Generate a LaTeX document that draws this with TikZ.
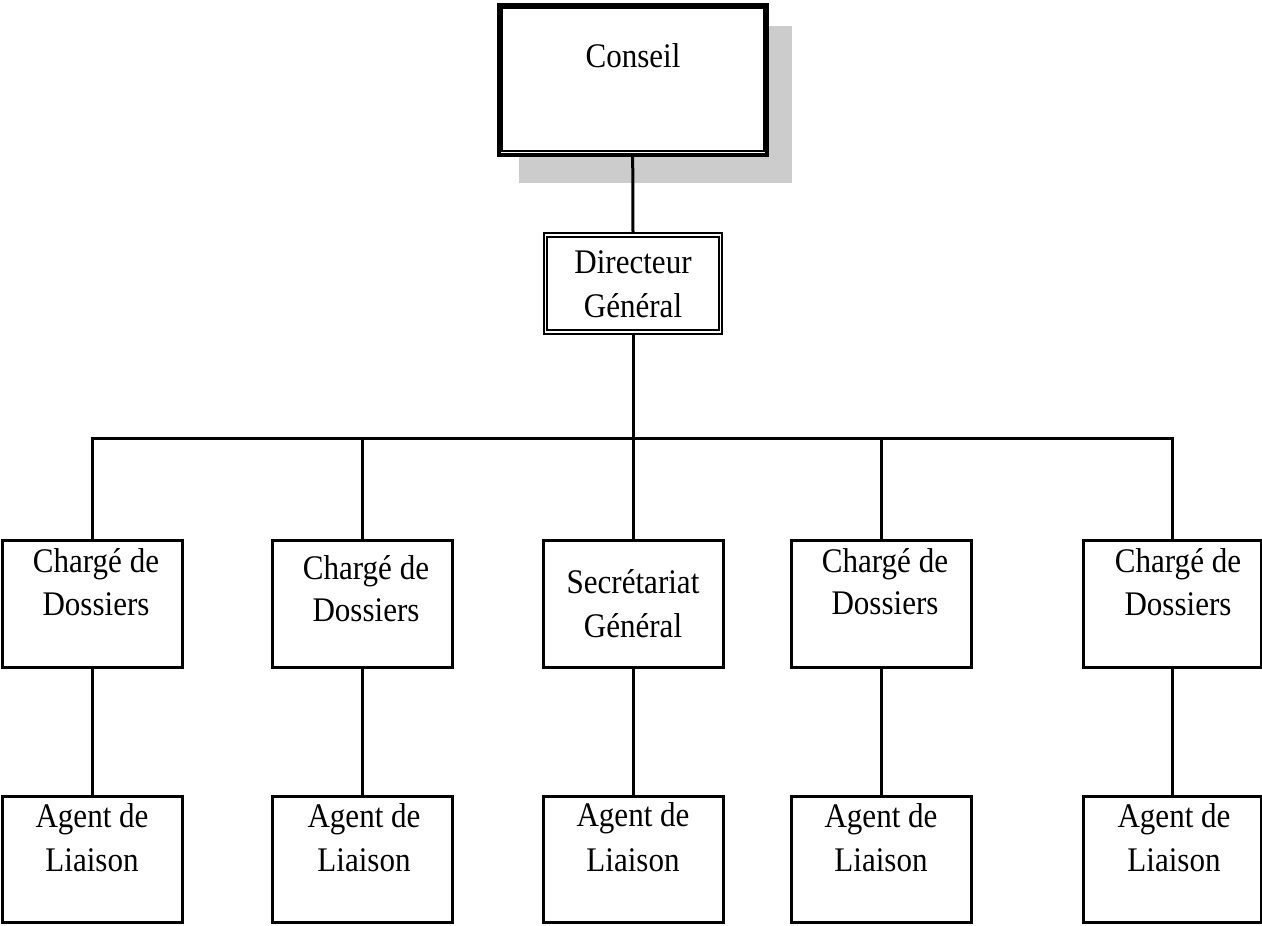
\documentclass[tikz,border=0pt]{standalone}
\usepackage{fontspec}
\setmainfont{Liberation Serif}[FakeStretch=0.9]
\begin{document}
\begin{tikzpicture}[x=1pt,y=-1pt,
  box/.style={draw, line width=3pt, rectangle, inner sep=0pt, minimum width=180pt, minimum height=127pt},
  txt/.style={anchor=base, inner sep=0pt, font=\fontsize{34.5}{44}\selectfont},
  conn/.style={line width=3pt}]
\useasboundingbox[fill=white] (0,0) rectangle (1262,926);
% Conseil
\fill[black!20] (519,26) rectangle (792,183);
\node[draw, line width=4pt, fill=white, rectangle, inner sep=0pt, minimum width=268pt, minimum height=150pt] (c) at (632.7,79.7) {};
\draw[line width=2pt] ([shift={(5,5)}]c.north west) rectangle ([shift={(-4.7,-6.2)}]c.south east);
\node[txt] (tc) at (633,67) {Conseil};
% Directeur General
\node[draw, line width=2pt, rectangle, inner sep=0pt, minimum width=178.6pt, minimum height=101pt] (dg) at (633,283.8) {};
\draw[line width=2pt] ([shift={(4,4.4)}]dg.north west) rectangle ([shift={(-4,-5.3)}]dg.south east);
\node[txt] (tdg1) at (633,273) {Directeur};
\node[txt] (tdg2) at (633,317) {Général};
% middle row
\node[box] (m1) at (92,603.5) {};
\node[box] (m2) at (362,603.5) {};
\node[box] (m3) at (633,603.5) {};
\node[box] (m4) at (881,603.5) {};
\node[box, minimum width=178pt] (m5) at (1172,603.5) {};
% bottom row
\node[box, minimum height=126pt] (b1) at (92,859) {};
\node[box, minimum height=126pt] (b2) at (362,859) {};
\node[box, minimum height=126pt] (b3) at (633,859) {};
\node[box, minimum height=126pt] (b4) at (881,859) {};
\node[box, minimum height=126pt, minimum width=178pt] (b5) at (1172,859) {};
% texts middle
\node[txt] (t1a) at (96,572) {Chargé de};
\node[txt] (t1b) at (96,615) {Dossiers};
\node[txt] (t2a) at (366,579) {Chargé de};
\node[txt] (t2b) at (366,621) {Dossiers};
\node[txt] (t3a) at (633,593) {Secrétariat};
\node[txt] (t3b) at (633,637) {Général};
\node[txt] (t4a) at (885,572) {Chargé de};
\node[txt] (t4b) at (885,614) {Dossiers};
\node[txt] (t5a) at (1178,572) {Chargé de};
\node[txt] (t5b) at (1178,615) {Dossiers};
% texts bottom
\node[txt] (u1a) at (92,827) {Agent de};
\node[txt] (u1b) at (92,871) {Liaison};
\node[txt] (u2a) at (364,827) {Agent de};
\node[txt] (u2b) at (364,871) {Liaison};
\node[txt] (u3a) at (633,826) {Agent de};
\node[txt] (u3b) at (633,871) {Liaison};
\node[txt] (u4a) at (881,827) {Agent de};
\node[txt] (u4b) at (881,871) {Liaison};
\node[txt] (u5a) at (1174,827) {Agent de};
\node[txt] (u5b) at (1174,871) {Liaison};
% connectors
\coordinate (bus) at (633,438);
\draw[conn] (c.south) -- (dg.north);
\draw[conn] (dg.south) -- (bus);
\draw[conn] (m1.north) |- (bus) -| (m5.north);
\draw[conn] (m2.north) -- (m2.north |- bus);
\draw[conn] (m3.north) -- (m3.north |- bus);
\draw[conn] (m4.north) -- (m4.north |- bus);
\draw[conn] (m1.south) -- (b1.north);
\draw[conn] (m2.south) -- (b2.north);
\draw[conn] (m3.south) -- (b3.north);
\draw[conn] (m4.south) -- (b4.north);
\draw[conn] (m5.south) -- (b5.north);
\end{tikzpicture}
\end{document}
